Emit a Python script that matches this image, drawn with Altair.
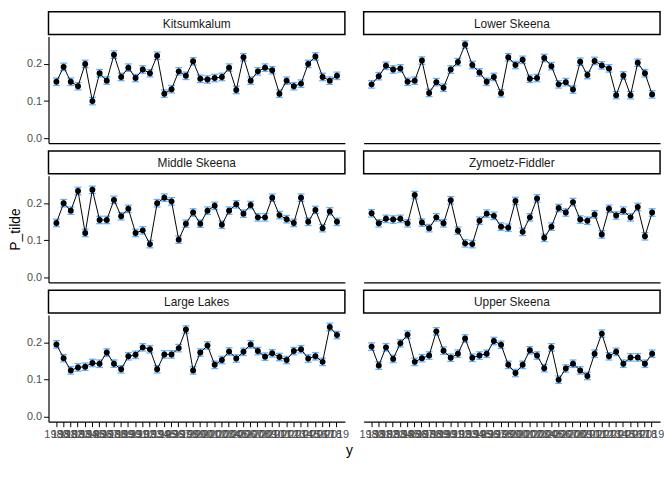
import altair as alt
import pandas as pd

years = list(range(1980, 2020))
regions = ["Kitsumkalum", "Lower Skeena", "Middle Skeena", "Zymoetz-Fiddler", "Large Lakes", "Upper Skeena"]

kitsumkalum = [0.152,0.192,0.152,0.140,0.200,0.100,0.175,0.155,0.225,0.165,0.190,0.162,0.185,0.175,0.222,0.120,0.132,0.180,0.168,0.207,
               0.160,0.158,0.162,0.165,0.190,0.130,0.218,0.155,0.180,0.190,0.183,0.120,0.155,0.140,0.147,0.200,0.220,0.165,0.155,0.168]
lower_skeena = [0.145,0.167,0.195,0.185,0.188,0.152,0.155,0.209,0.122,0.151,0.136,0.185,0.205,0.252,0.197,0.177,0.152,0.165,0.121,0.218,
                0.197,0.211,0.160,0.162,0.216,0.194,0.145,0.151,0.131,0.206,0.170,0.208,0.196,0.188,0.116,0.169,0.116,0.203,0.175,0.118]
middle_skeena = [0.147,0.200,0.180,0.233,0.120,0.236,0.155,0.155,0.209,0.165,0.185,0.120,0.127,0.090,0.200,0.215,0.205,0.102,0.145,0.175,
                 0.145,0.180,0.193,0.142,0.180,0.197,0.172,0.195,0.162,0.162,0.215,0.168,0.157,0.147,0.215,0.150,0.182,0.133,0.178,0.150]
zymoetz = [0.173,0.146,0.158,0.156,0.158,0.146,0.222,0.148,0.133,0.162,0.146,0.208,0.126,0.092,0.090,0.153,0.172,0.166,0.137,0.134,
           0.206,0.123,0.162,0.213,0.107,0.137,0.187,0.175,0.203,0.156,0.153,0.170,0.116,0.185,0.167,0.180,0.162,0.190,0.111,0.175]
large_lakes = [0.195,0.158,0.125,0.133,0.135,0.145,0.143,0.173,0.143,0.128,0.163,0.167,0.187,0.182,0.128,0.168,0.168,0.185,0.235,0.125,
               0.173,0.192,0.140,0.153,0.176,0.157,0.175,0.195,0.177,0.162,0.171,0.161,0.153,0.177,0.182,0.157,0.163,0.148,0.242,0.220]
upper_skeena = [0.189,0.138,0.187,0.156,0.198,0.221,0.148,0.158,0.165,0.230,0.178,0.159,0.170,0.211,0.159,0.165,0.170,0.204,0.194,0.140,
                0.118,0.140,0.179,0.165,0.131,0.187,0.100,0.130,0.143,0.125,0.110,0.170,0.224,0.163,0.175,0.143,0.160,0.160,0.143,0.170]
std_err = [0.010] * 40

series = [kitsumkalum, lower_skeena, middle_skeena, zymoetz, large_lakes, upper_skeena]

W, H = 300, 108
FONT = "Liberation Sans"
ydom = [-0.013, 0.274]

panels = []
for i, (name, vals) in enumerate(zip(regions, series)):
    df = pd.DataFrame({"y": years, "P": vals, "se": std_err})
    df["lo"] = df["P"] - df["se"]
    df["hi"] = df["P"] + df["se"]
    left = i % 2 == 0
    bottom = i >= 4
    xaxis = alt.Axis(
        title="y" if i == 4 else None,
        titleX=W + 4, titleFontSize=14, titleFontWeight="normal", titleColor="black",
        titlePadding=4,
        labels=bottom, ticks=bottom, labelAngle=0, labelOverlap=False, labelFontSize=11,
        labelColor="#4D4D4D", domainColor="black", domainWidth=1.2, tickColor="black",
        labelPadding=2, grid=False,
    )
    yaxis = alt.Axis(
        title="P_tilde" if i == 2 else None, titleFontSize=14, titleFontWeight="normal",
        titleColor="black", values=[0, 0.1, 0.2], format=".1f",
        labels=left, ticks=left, domain=left, labelFontSize=11, labelColor="#4D4D4D",
        domainColor="black", domainWidth=1.2, tickColor="black", grid=False,
    )
    base = alt.Chart(df)
    xenc = alt.X("y:O", axis=xaxis, scale=alt.Scale(paddingOuter=0.6, paddingInner=0))
    yscale = alt.Scale(domain=ydom, nice=False, zero=False)
    bars = base.mark_rule(color="#1E90FF", strokeWidth=1.2).encode(
        x=xenc, y=alt.Y("lo:Q", axis=yaxis, scale=yscale), y2="hi:Q")
    capl = base.mark_tick(color="#1E90FF", size=7, thickness=1.3).encode(x=xenc, y=alt.Y("lo:Q", scale=yscale))
    caph = base.mark_tick(color="#1E90FF", size=7, thickness=1.3).encode(x=xenc, y=alt.Y("hi:Q", scale=yscale))
    line = base.mark_line(color="black", strokeWidth=1).encode(x=xenc, y=alt.Y("P:Q", scale=yscale))
    pts = base.mark_circle(color="black", size=36, opacity=1).encode(x=xenc, y=alt.Y("P:Q", scale=yscale))
    strip_box = alt.Chart(pd.DataFrame({"r": [name]})).mark_rect(
        fill="white", stroke="black", strokeWidth=1.5).encode(
        x=alt.value(0), x2=alt.value(W), y=alt.value(-25), y2=alt.value(-2))
    strip_txt = alt.Chart(pd.DataFrame({"r": [name]})).mark_text(
        fontSize=12, color="#1A1A1A", font=FONT).encode(
        x=alt.value(W / 2), y=alt.value(-13), text="r:N")
    panel = alt.layer(bars, capl, caph, line, pts, strip_box, strip_txt).properties(width=W, height=H)
    panels.append(panel)

chart = alt.concat(*panels, columns=2, spacing={"row": 6, "column": 6}).properties(
    padding={"top": 0, "left": 0, "right": 0, "bottom": 0}
).configure(font=FONT).configure_view(strokeWidth=0)

chart.save("out.html", embed_options={"renderer": "svg", "actions": False})
